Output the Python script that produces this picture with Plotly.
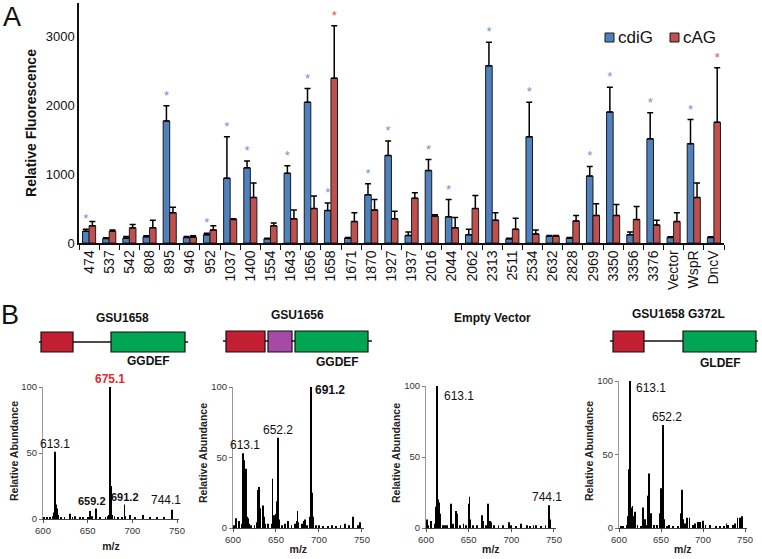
import plotly.graph_objects as go

W, H = 762, 559

# ---- panel A data ----
strains = ["474", "537", "542", "808", "895", "946", "952", "1037", "1400", "1554",
           "1643", "1656", "1658", "1671", "1870", "1927", "1937", "2016", "2044", "2062",
           "2313", "2511", "2534", "2632", "2828", "2969", "3350", "3356", "3376",
           "Vector", "WspR", "DncV"]
cdig = [170, 65, 70, 90, 1770, 80, 120, 940, 1090, 60, 1010, 2040, 470, 70, 700, 1270,
        110, 1050, 380, 120, 2570, 60, 1540, 100, 70, 970, 1900, 120, 1510, 80, 1440, 80]
cdig_err = [30, 10, 25, 15, 220, 15, 20, 600, 100, 10, 110, 200, 110, 10, 160, 210,
            50, 160, 250, 80, 340, 10, 500, 10, 10, 140, 360, 40, 380, 10, 350, 10]
cag = [250, 170, 220, 220, 440, 85, 190, 340, 660, 250, 350, 500, 2390, 310, 480, 350,
       650, 390, 220, 500, 330, 200, 130, 100, 320, 400, 400, 340, 260, 310, 660, 1750]
cag_err = [60, 20, 50, 110, 80, 20, 60, 10, 210, 40, 130, 180, 760, 130, 150, 110,
           80, 20, 150, 190, 110, 160, 60, 10, 80, 170, 160, 190, 70, 130, 210, 790]
cdig_sig = ["474", "895", "952", "1037", "1400", "1643", "1656", "1658", "1870", "1927",
            "2016", "2044", "2313", "2534", "2969", "3350", "3376", "WspR"]
cag_sig = ["1658", "DncV"]

# ---- panel B data (m/z, relative abundance) ----
gsu1658_mz = [601, 604, 608, 611, 612, 613.1, 614, 615, 616, 617, 620, 624, 630, 633, 636,
              641, 645, 650, 653, 655, 659.2, 664, 670, 673, 674, 675.1, 676, 677, 680, 684,
              688, 691.2, 692, 697, 703, 712, 720, 728, 735, 744.1, 745]
gsu1658_ab = [1, 1, 1, 2, 5, 51, 12, 11, 8, 3, 1, 1, 4, 1, 2,
              1, 1, 1, 6, 2, 8, 1, 1, 2, 3, 100, 25, 3, 2, 1,
              1, 11, 2, 3, 1, 3, 1, 1, 1, 7, 2]
gsu1656_mz = [601, 603, 607, 610, 611, 612, 613.1, 614, 615, 616, 617, 619, 621, 625, 628,
              629, 630, 631, 632, 635, 636, 637, 641, 645, 646, 648, 650, 651, 652.2, 653,
              654, 657, 660, 664, 668, 672, 674, 675, 676, 680, 682, 684, 686, 689, 690,
              691.2, 692, 693, 697, 700, 705, 710, 715, 720, 725, 730, 735, 740, 745, 748]
gsu1656_ab = [2, 7, 5, 3, 10, 53, 48, 30, 42, 8, 7, 3, 2, 2, 4,
              27, 29, 8, 14, 16, 8, 3, 3, 3, 35, 9, 10, 19, 64, 9,
              6, 2, 3, 5, 2, 3, 5, 12, 4, 3, 5, 6, 2, 2, 8,
              100, 25, 8, 2, 2, 1, 1, 2, 1, 2, 3, 2, 8, 2, 4]
empty_mz = [601, 603, 606, 610, 612, 613.1, 614, 615, 616, 617, 620, 622, 625, 629, 632,
            635, 636, 640, 644, 647, 650, 651, 652, 655, 660, 665, 666, 667, 670, 673,
            675, 676, 680, 685, 690, 697, 700, 705, 711, 718, 722, 726, 729, 735, 740,
            744.1, 745]
empty_ab = [6, 2, 5, 3, 15, 100, 20, 18, 10, 3, 2, 2, 2, 17, 3,
            12, 10, 2, 3, 2, 17, 22, 6, 2, 2, 4, 9, 5, 2, 17,
            5, 4, 2, 2, 2, 4, 2, 1, 3, 2, 1, 2, 2, 1, 2,
            16, 6]
g372l_mz = [602, 605, 610, 611, 612, 613.1, 614, 615, 616, 617, 619, 622, 626, 629, 631,
            633, 635, 636, 638, 642, 645, 649, 650, 651, 652.2, 653, 654, 657, 660, 664,
            670, 674, 675, 676, 679, 681, 684, 688, 690, 694, 696, 700, 703, 708, 715,
            720, 725, 728, 730, 736, 738, 741, 744, 746]
g372l_ab = [1, 1, 2, 8, 40, 100, 14, 12, 15, 8, 11, 2, 1, 14, 6,
            2, 22, 37, 10, 2, 2, 10, 27, 12, 70, 17, 6, 1, 2, 1,
            1, 10, 26, 6, 3, 7, 7, 2, 3, 4, 4, 5, 2, 2, 1,
            1, 1, 3, 2, 2, 3, 7, 7, 8]

spectra = [
    ("GSU1658", gsu1658_mz, gsu1658_ab),
    ("GSU1656", gsu1656_mz, gsu1656_ab),
    ("Empty Vector", empty_mz, empty_ab),
    ("GSU1658 G372L", g372l_mz, g372l_ab),
]
# peak labels: (panel, m/z, abundance, text, bold, colour, xanchor, yanchor, size)
peak_labels = [
    (0, 613.1, 51, "613.1", False, "#111", "center", "bottom", 12),
    (0, 675.1, 100, "675.1", True, "#e8262b", "center", "bottom", 12),
    (0, 655, 8, "659.2", True, "#111", "center", "bottom", 11),
    (0, 691.5, 11, "691.2", True, "#111", "center", "bottom", 11),
    (0, 738, 8, "744.1", False, "#111", "center", "bottom", 12),
    (1, 614, 53, "613.1", False, "#111", "center", "bottom", 12),
    (1, 652.2, 64, "652.2", False, "#111", "center", "bottom", 12),
    (1, 693, 98, "691.2", True, "#111", "left", "middle", 12),
    (2, 619, 93, "613.1", False, "#111", "left", "middle", 12),
    (2, 742, 16, "744.1", False, "#111", "center", "bottom", 12),
    (3, 618, 95, "613.1", False, "#111", "left", "middle", 12),
    (3, 657, 70, "652.2", False, "#111", "center", "bottom", 12),
]

BLUE, RED = "#4f81bd", "#c0504d"
FONT = "Arial, Liberation Sans, sans-serif"


def fx(p):
    return p / W


def fy(p):
    return 1 - p / H


fig = go.Figure()

# ---- panel A bars ----
for name, vals, errs, col, grp in [("cdiG", cdig, cdig_err, BLUE, "g"),
                                   ("cAG", cag, cag_err, RED, "a")]:
    fig.add_trace(go.Bar(
        x=strains, y=vals, name=name, offsetgroup=grp, showlegend=False,
        marker=dict(color=col, line=dict(color="#1a1a1a", width=1)),
        error_y=dict(type="data", symmetric=False, array=errs, arrayminus=[0] * len(errs),
                     color="black", thickness=1.5, width=3),
    ))

for vals, errs, sig, col, grp in [(cdig, cdig_err, cdig_sig, "#6f93d0", "g"),
                                  (cag, cag_err, cag_sig, "#d9534f", "a")]:
    fig.add_trace(go.Bar(
        x=strains, y=[v + e for v, e in zip(vals, errs)], offsetgroup=grp,
        marker=dict(color="rgba(0,0,0,0)", line=dict(width=0)),
        text=["*" if s in sig else "" for s in strains],
        textposition="outside", constraintext="none", cliponaxis=False,
        textfont=dict(color=col, size=13, family=FONT),
        showlegend=False, hoverinfo="skip",
    ))

fig.update_layout(
    xaxis=dict(domain=[fx(79), fx(724)], type="category", tickangle=-90, automargin=False,
               ticks="outside", tickson="boundaries", ticklen=5, tickcolor="#111",
               showline=True, linecolor="#111", linewidth=1.5,
               tickfont=dict(size=14, color="#111")),
    yaxis=dict(domain=[fy(243), fy(3)], range=[0, 3480], showgrid=False, zeroline=False,
               showline=True, linecolor="#111", linewidth=1.5, automargin=False,
               tickvals=[0, 1000, 2000, 3000], tickfont=dict(size=13, color="#111"),
               title=dict(text="<b>Relative Fluorescence</b>", standoff=6,
                          font=dict(size=14, color="#111"))),
    barmode="group", bargap=0.35, bargroupgap=0,
)

# legend drawn by hand: small outlined squares followed by the series names
for name, col, x in [("cdiG", BLUE, 605), ("cAG", RED, 670)]:
    fig.add_shape(type="rect", xref="paper", yref="paper", x0=fx(x), x1=fx(x + 9),
                  y0=fy(42), y1=fy(33), fillcolor=col, line=dict(color="#1a1a1a", width=1))
    fig.add_annotation(x=fx(x + 11), y=fy(37.5), xref="paper", yref="paper", text=name,
                       showarrow=False, xanchor="left", yanchor="middle",
                       font=dict(size=17, color="#111", family=FONT))

# ---- panel B spectra ----
x_doms = [(43, 178.8), (233, 363.7), (426, 555.7), (619, 746.7)]
y_doms = [(387, 519), (387, 528), (386, 528), (381, 528)]
ytitle_x = [14, 203, 396, 589]
ytitle_y = [451, 453, 453, 451]
for i, ((title, mz, ab), xd, yd) in enumerate(zip(spectra, x_doms, y_doms)):
    k = i + 2
    fig.add_trace(go.Bar(x=mz, y=ab, width=1.0, marker=dict(color="black", line=dict(width=0)),
                         xaxis=f"x{k}", yaxis=f"y{k}", showlegend=False))
    fig.layout[f"xaxis{k}"] = dict(
        domain=[fx(xd[0]), fx(xd[1])], anchor=f"y{k}", range=[600, 752], automargin=False,
        tickvals=[600, 650, 700, 750], ticks="outside", ticklen=3, tickcolor="#555",
        showline=True, linecolor="#444", linewidth=1, showgrid=False, zeroline=False,
        tickfont=dict(size=9.5, color="#333"),
        title=dict(text="<b>m/z</b>", standoff=7 if i == 0 else 1,
                   font=dict(size=10.5, color="#222")))
    fig.layout[f"yaxis{k}"] = dict(
        domain=[fy(yd[1]), fy(yd[0])], anchor=f"x{k}", range=[0, 100], automargin=False,
        tickvals=[0, 50, 100], ticks="outside", ticklen=3, tickcolor="#777",
        showline=True, linecolor="#999", linewidth=1, showgrid=False, zeroline=False,
        tickfont=dict(size=9.5, color="#333"))
    fig.add_annotation(x=fx(ytitle_x[i]), y=fy(ytitle_y[i]), xref="paper", yref="paper",
                       text="<b>Relative Abundance</b>", textangle=-90, showarrow=False,
                       xanchor="center", yanchor="middle",
                       font=dict(size=10.5, color="#222", family=FONT))

for p, m, a, t, bold, col, xa, ya, sz in peak_labels:
    k = p + 2
    fig.add_annotation(x=m, y=a, xref=f"x{k}", yref=f"y{k}", text=f"<b>{t}</b>" if bold else t,
                       showarrow=False, xanchor=xa, yanchor=ya, yshift=0,
                       xshift=1 if xa == "left" else 0, borderpad=0,
                       font=dict(size=sz, color=col, family=FONT))

# ---- domain diagrams (schematic) ----
DOM_RED, DOM_GREEN, DOM_PURPLE = "#c21f32", "#00a651", "#a54ba6"
diagram_lines = [(39, 188, 342), (223, 372, 341), (610, 758, 341)]
diagram_boxes = [(41, 73, 332, 352, DOM_RED), (111, 185, 332, 352, DOM_GREEN),
                 (226, 265, 331, 352, DOM_RED), (268, 292, 331, 352, DOM_PURPLE),
                 (295, 368, 331, 352, DOM_GREEN),
                 (613, 644, 331, 352, DOM_RED), (683, 756, 331, 352, DOM_GREEN)]
for x0, x1, y in diagram_lines:
    fig.add_shape(type="line", xref="paper", yref="paper", x0=fx(x0), x1=fx(x1),
                  y0=fy(y), y1=fy(y), line=dict(color="#111", width=1.5))
for x0, x1, y0, y1, c in diagram_boxes:
    fig.add_shape(type="rect", xref="paper", yref="paper", x0=fx(x0), x1=fx(x1),
                  y0=fy(y1), y1=fy(y0), fillcolor=c, line=dict(color="#111", width=1.2))

texts = [
    ("GSU1658", 122, 318), ("GSU1656", 297, 315), ("Empty Vector", 492, 318),
    ("GSU1658 G372L", 678, 314), ("GGDEF", 148, 361), ("GGDEF", 337, 362), ("GLDEF", 720, 363),
]
for t, x, y in texts:
    fig.add_annotation(x=fx(x), y=fy(y), xref="paper", yref="paper", text=f"<b>{t}</b>",
                       showarrow=False, xanchor="center", yanchor="middle",
                       font=dict(size=12, color="#111", family=FONT))

for t, x, y in [("A", 12, 17), ("B", 10, 315)]:
    fig.add_annotation(x=fx(x), y=fy(y), xref="paper", yref="paper", text=t, showarrow=False,
                       xanchor="center", yanchor="middle", font=dict(size=27, color="#111", family=FONT))

fig.update_layout(
    width=W, height=H, margin=dict(l=0, r=0, t=0, b=0),
    paper_bgcolor="white", plot_bgcolor="white",
    font=dict(family=FONT, color="#111"), showlegend=False,
)

# the page body has a default 8px margin; remove it so the figure sits at 0,0
fig.write_html("out.html", config={"displayModeBar": False},
               post_script="document.body.style.margin='0';")
